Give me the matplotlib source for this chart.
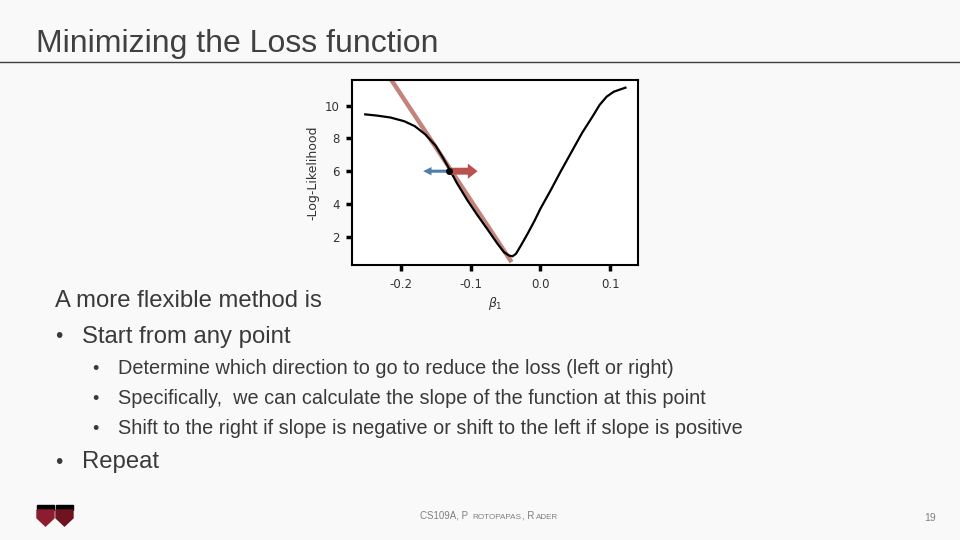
import matplotlib.pyplot as plt
import matplotlib.patches as mpatches
from matplotlib.lines import Line2D

# loss curve
beta1 = [-0.251, -0.235, -0.215, -0.195, -0.180, -0.165, -0.150, -0.140, -0.130,
         -0.120, -0.105, -0.090, -0.075, -0.062, -0.052, -0.045, -0.040, -0.035,
         -0.028, -0.018, -0.008, 0.000, 0.015, 0.030, 0.045, 0.060, 0.075, 0.085,
         0.095, 0.105, 0.115, 0.122]
neg_loglik = [9.47, 9.40, 9.28, 9.05, 8.75, 8.25, 7.55, 6.85, 6.10,
              5.30, 4.25, 3.30, 2.40, 1.60, 1.05, 0.85, 0.80, 0.95,
              1.45, 2.20, 3.00, 3.70, 4.85, 6.05, 7.20, 8.35, 9.35, 10.05,
              10.55, 10.85, 11.00, 11.10]

# tangent at the current point
tangent_x = [-0.212, -0.043]
tangent_y = [11.47, 0.56]

# current point and the two candidate steps
point = (-0.131, 6.0)
left_step = -0.168
right_step = -0.090

x_ticks = [-0.2, -0.1, 0.0, 0.1]
x_ticklabels = ["-0.2", "-0.1", "0.0", "0.1"]
y_ticks = [2, 4, 6, 8, 10]

W, H = 960, 540
fig = plt.figure(figsize=(9.6, 5.4), dpi=100)
fig.patch.set_facecolor("#f9f9f9")

def fx(px):
    return px / W

def fy(py):
    return 1 - py / H

# slide header
fig.text(fx(36), fy(52), "Minimizing the Loss function", fontsize=23,
         family="Liberation Sans", color="#404040", va="baseline")
fig.add_artist(Line2D([0, 1], [fy(62), fy(62)], color="#404040", lw=1))

# chart
ax = fig.add_axes([fx(352), fy(265), fx(638 - 352), (265 - 80) / H])
ax.set_facecolor("white")
ax.plot(beta1, neg_loglik, color="black", lw=1.6, zorder=3)
ax.plot(tangent_x, tangent_y, color="#c4837c", lw=3.2, zorder=2)
ax.annotate("", xy=(left_step, point[1]), xytext=point,
            arrowprops=dict(arrowstyle="simple,head_length=0.6,head_width=0.6,tail_width=0.22",
                            color="#4f7ea8", lw=0, shrinkA=0, shrinkB=0), zorder=4)
ax.annotate("", xy=(right_step, point[1]), xytext=point,
            arrowprops=dict(arrowstyle="simple,head_length=0.7,head_width=1.1,tail_width=0.5",
                            color="#b9524f", lw=0, shrinkA=0, shrinkB=0), zorder=4)
ax.plot([point[0]], [point[1]], "o", color="black", ms=4, zorder=5)

ax.set_xlim(-0.270, 0.140)
ax.set_ylim(0.27, 11.57)
ax.set_xticks(x_ticks)
ax.set_xticklabels(x_ticklabels)
ax.set_yticks(y_ticks)
ax.tick_params(direction="out", length=4, width=2.5, labelsize=8.5,
               labelcolor="#333333", pad=5)
for side in ["left", "bottom", "top", "right"]:
    ax.spines[side].set_linewidth(1.5)
ax.set_xlabel(r"$\beta_1$", fontsize=9, color="#333333", labelpad=3)
ax.set_ylabel("-Log-Likelihood", fontsize=9, color="#333333", labelpad=4)

# body text
body = dict(family="Liberation Sans", color="#3a3a3a", va="center")
fig.text(fx(55), fy(301), "A more flexible method is", fontsize=17.2, **body)
fig.text(fx(55), fy(337), "\u2022", fontsize=15, **body)
fig.text(fx(82), fy(337), "Start from any point", fontsize=17.2, **body)
subs = ["Determine which direction to go to reduce the loss (left or right)",
        "Specifically,  we can calculate the slope of the function at this point",
        "Shift to the right if slope is negative or shift to the left if slope is positive"]
for i, s in enumerate(subs):
    y = 369 + 30 * i
    fig.text(fx(92), fy(y), "\u2022", fontsize=13, **body)
    fig.text(fx(118), fy(y), s, fontsize=14.3, **body)
fig.text(fx(55), fy(462), "\u2022", fontsize=15, **body)
fig.text(fx(82), fy(462), "Repeat", fontsize=17.2, **body)

# footer, small caps done by hand
foot = dict(family="Liberation Sans", color="#808080", va="baseline")
fig.text(fx(420), fy(519), "CS109A, P", fontsize=7, **foot)
fig.text(fx(472), fy(519), "ROTOPAPAS", fontsize=5.9, **foot)
fig.text(fx(522), fy(519), ", R", fontsize=7, **foot)
fig.text(fx(536), fy(519), "ADER", fontsize=5.8, **foot)
fig.text(fx(924), fy(521), "19", fontsize=7.5, **foot)

# small shield logos
for x0, col in [(37, "#8c1c2e"), (56, "#6e1420")]:
    fig.add_artist(mpatches.Rectangle((fx(x0), fy(510)), fx(17), 5 / H,
                                      color="black", zorder=2))
    shield = [(x0, 510), (x0 + 17, 510), (x0 + 17, 518), (x0 + 8.5, 526), (x0, 518)]
    fig.add_artist(mpatches.Polygon([(fx(a), fy(b)) for a, b in shield],
                                    closed=True, color=col, zorder=2))

fig.savefig("out.png", dpi=100, facecolor=fig.get_facecolor())
